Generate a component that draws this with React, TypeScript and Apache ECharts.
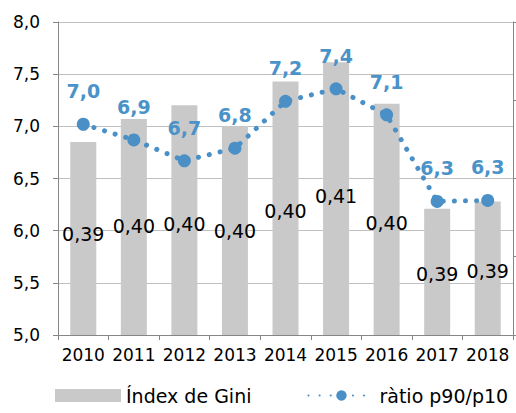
import React, { useEffect, useRef } from "react";
import * as echarts from "echarts";

const years = ["2010", "2011", "2012", "2013", "2014", "2015", "2016", "2017", "2018"];
const giniIndex = [0.3949, 0.3981, 0.4, 0.3971, 0.4033, 0.406, 0.4002, 0.3856, 0.3866];
const ratioP90P10 = [7.02, 6.87, 6.67, 6.79, 7.24, 7.36, 7.11, 6.28, 6.29];
const leftTicks = { min: 5, max: 8, interval: 0.5 };
const rightTicks = { min: 0.368, max: 0.4116, interval: 0.0109 };
// vertical placement of bar labels (distance of label centre above the bar base, px)
const giniLabelLift = [102, 110, 112, 105, 125, 140, 113, 62, 65];

const FONT = "DejaVu Sans";
const comma = (v: number, d: number) => v.toFixed(d).replace(".", ",");

export default function App() {
  const ref = useRef<HTMLDivElement>(null);
  useEffect(() => {
    if (!ref.current) return;
    const chart = echarts.init(ref.current, null, { renderer: "svg" });
    const axisGray = "#868686";
    chart.setOption({
      animation: false,
      backgroundColor: "#ffffff",
      textStyle: { fontFamily: FONT },
      grid: { left: 58, right: 3, top: 22, bottom: 78, containLabel: false },
      legend: {
        left: 50,
        bottom: 3,
        itemWidth: 66,
        itemHeight: 13,
        itemGap: 56,
        textStyle: { fontFamily: FONT, fontSize: 19, color: "#000" },
        data: [
          { name: "Índex de Gini", icon: "rect" },
          { name: "ràtio p90/p10" },
        ],
      },
      xAxis: {
        type: "category",
        data: years,
        axisLine: { lineStyle: { color: axisGray } },
        axisTick: { show: true, length: 5, lineStyle: { color: axisGray } },
        axisLabel: {
          interval: 0,
          hideOverlap: false,
          margin: 11,
          fontFamily: FONT,
          fontSize: 17,
          color: "#000",
        },
      },
      yAxis: [
        {
          type: "value",
          min: leftTicks.min,
          max: leftTicks.max,
          interval: leftTicks.interval,
          axisLine: { show: true, lineStyle: { color: axisGray } },
          axisTick: { show: true, length: 5, lineStyle: { color: axisGray } },
          axisLabel: {
            margin: 18,
            fontFamily: FONT,
            fontSize: 17,
            color: "#000",
            formatter: (v: number) => comma(v, 1),
          },
          splitLine: { show: true, lineStyle: { color: "#c0c0c0", width: 1 } },
        },
        {
          type: "value",
          position: "right",
          min: rightTicks.min,
          max: rightTicks.max,
          interval: rightTicks.interval,
          axisLine: { show: true, lineStyle: { color: axisGray } },
          axisTick: { show: true, length: 5, lineStyle: { color: axisGray } },
          axisLabel: { show: false },
          splitLine: { show: false },
        },
      ],
      series: [
        {
          name: "Índex de Gini",
          type: "bar",
          yAxisIndex: 1,
          barWidth: 26,
          itemStyle: { color: "#c9c9c9" },
          data: giniIndex.map((v, i) => ({
            value: v,
            label: {
              show: true,
              position: "insideBottom",
              distance: 0,
              offset: [0, -(giniLabelLift[i] - 10)],
            },
          })),
          label: {
            show: true,
            fontFamily: FONT,
            fontSize: 19,
            color: "#000",
            formatter: (p: any) => comma(p.value, 2),
          },
          z: 1,
        },
        {
          name: "ràtio p90/p10",
          type: "line",
          yAxisIndex: 0,
          data: ratioP90P10,
          symbol: "circle",
          symbolSize: 13,
          itemStyle: { color: "#4a90c6" },
          lineStyle: { color: "#4a90c6", width: 5, type: [0.1, 11], cap: "round" },
          label: {
            show: true,
            position: "top",
            distance: 17,
            fontFamily: FONT,
            fontSize: 19,
            fontWeight: "bold",
            color: "#4a93c9",
            formatter: (p: any) => comma(p.value, 1),
          },
          z: 3,
        },
      ],
    });
    return () => chart.dispose();
  }, []);
  return (
    <div
      ref={ref}
      style={{ position: "fixed", left: 0, top: 0, width: 516, height: 413 }}
    />
  );
}
